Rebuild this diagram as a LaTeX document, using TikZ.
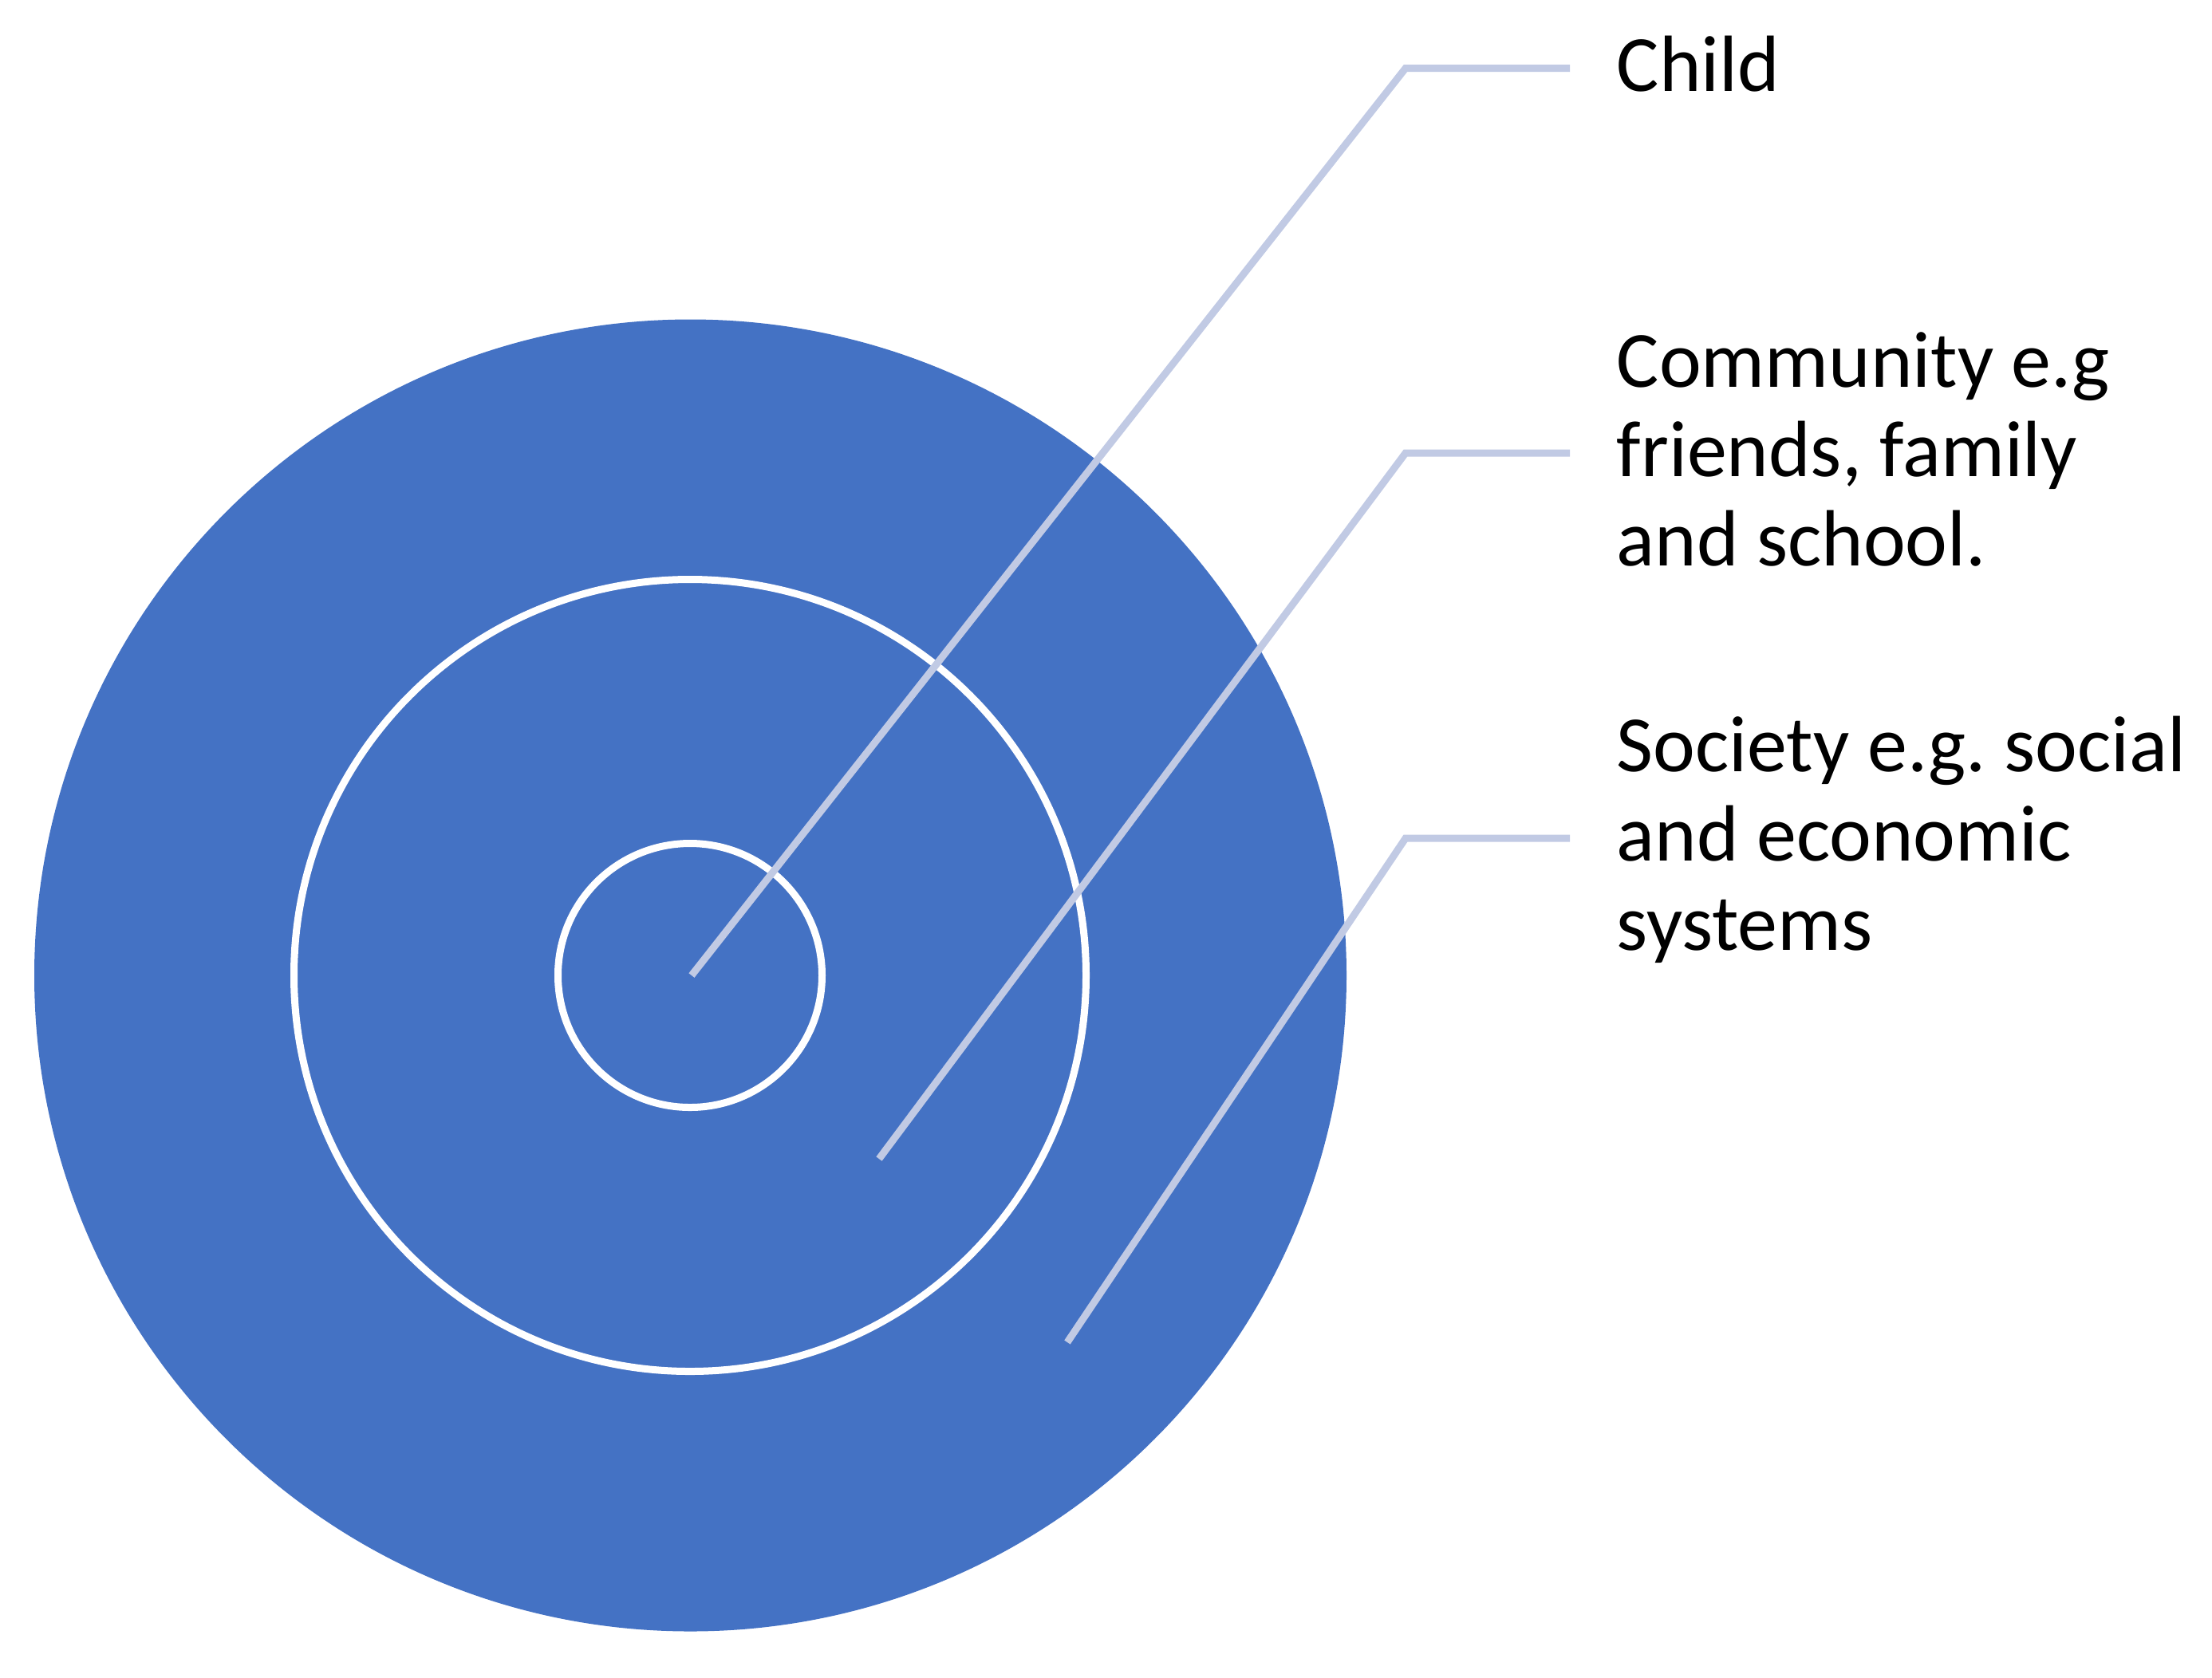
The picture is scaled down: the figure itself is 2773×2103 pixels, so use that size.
\documentclass[tikz,border=0pt]{standalone}
\usepackage{fontspec}
\setmainfont{Carlito}
\frenchspacing
\definecolor{ringblue}{HTML}{4472C4}
\definecolor{leadercol}{RGB}{193,202,228}
\begin{document}
\begin{tikzpicture}[x=0.25pt,y=-0.25pt,
  ring/.style={circle,draw=white,line width=2.25pt,inner sep=0pt},
  leader/.style={draw=leadercol,line width=2.25pt},
  lab/.style={anchor=base west,inner sep=0pt,font=\fontsize{25pt}{28pt}\selectfont}]
\useasboundingbox (0,0) rectangle (2773,2103);
\node[circle,fill=ringblue,inner sep=0pt,minimum size=411.25pt] (outer) at (865.5,1223) {};
\node[ring,minimum size=248.25pt] (middle) at (865,1223) {};
\node[ring,minimum size=82.75pt] (inner) at (865,1223) {};
% labels
\node[lab] (lchild) at (2026,114) {Child};
\node[lab] (lcomm) at (2026,485) {\begin{tabular}[t]{@{}l@{}}Community e.g\\friends, family\\and school.\end{tabular}};
\node[lab] (lsoc) at (2026,967) {\begin{tabular}[t]{@{}l@{}}Society e.g.\ social\\and economic\\systems\end{tabular}};
% leader points
\coordinate (e1) at (867,1223);
\coordinate (k1) at (1762,85.5);
\coordinate (b1) at (1968,85.5);
\coordinate (e2) at (1102,1453);
\coordinate (k2) at (1762,568);
\coordinate (b2) at (1968,568);
\coordinate (e3) at (1338,1683);
\coordinate (k3) at (1762,1051);
\coordinate (b3) at (1968,1051);
\draw[leader] (e1) -- (k1) -- (b1);
\draw[leader] (e2) -- (k2) -- (b2);
\draw[leader] (e3) -- (k3) -- (b3);
\end{tikzpicture}
\end{document}
